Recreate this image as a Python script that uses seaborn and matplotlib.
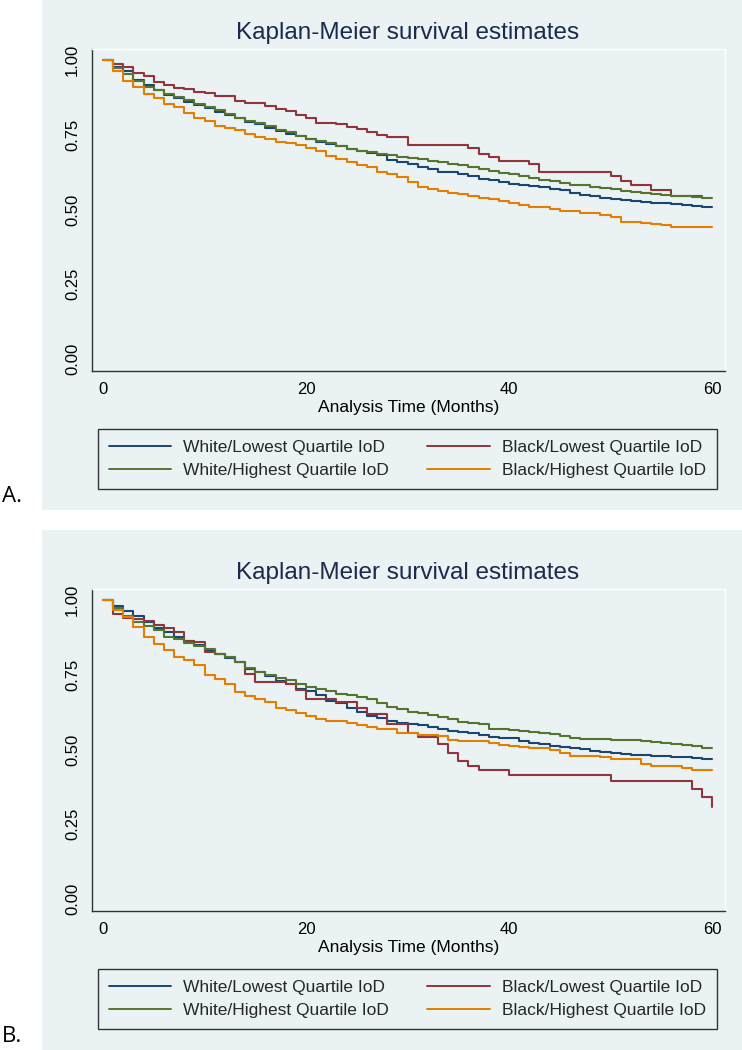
import numpy as np
import pandas as pd
import matplotlib
matplotlib.use("Agg")
import matplotlib.pyplot as plt
from matplotlib.patches import Rectangle
import seaborn as sns

# ---------------- data ----------------
MONTHS = list(range(0, 61))
MONTHS_A_BLACK_LOW = list(range(0, 60))

GROUPS = ["White/Lowest Quartile IoD", "Black/Lowest Quartile IoD",
          "White/Highest Quartile IoD", "Black/Highest Quartile IoD"]

a_white_low = [1.000, 0.978, 0.962, 0.934, 0.915, 0.900, 0.884, 0.873, 0.861, 0.851,
               0.838, 0.827, 0.816, 0.805, 0.794, 0.785, 0.774, 0.764, 0.753, 0.745,
               0.735, 0.727, 0.720, 0.712, 0.702, 0.695, 0.690, 0.681, 0.664, 0.658,
               0.651, 0.643, 0.634, 0.626, 0.624, 0.620, 0.613, 0.603, 0.599, 0.593,
               0.585, 0.582, 0.580, 0.575, 0.570, 0.564, 0.555, 0.548, 0.544, 0.540,
               0.536, 0.533, 0.528, 0.525, 0.522, 0.521, 0.517, 0.514, 0.513, 0.508,
               0.508]
a_white_high = [1.000, 0.974, 0.953, 0.931, 0.911, 0.901, 0.886, 0.876, 0.865, 0.854,
                0.842, 0.832, 0.819, 0.806, 0.797, 0.790, 0.779, 0.766, 0.758, 0.747,
                0.735, 0.729, 0.721, 0.713, 0.703, 0.697, 0.693, 0.686, 0.681, 0.677,
                0.671, 0.668, 0.662, 0.658, 0.652, 0.648, 0.642, 0.634, 0.630, 0.623,
                0.618, 0.611, 0.604, 0.600, 0.595, 0.590, 0.583, 0.581, 0.576, 0.572,
                0.569, 0.563, 0.559, 0.555, 0.551, 0.550, 0.546, 0.544, 0.542, 0.540,
                0.540]
a_black_low = [1.000, 0.988, 0.976, 0.955, 0.946, 0.928, 0.918, 0.907, 0.903, 0.894,
               0.888, 0.878, 0.878, 0.863, 0.857, 0.857, 0.846, 0.836, 0.829, 0.816,
               0.805, 0.790, 0.790, 0.785, 0.777, 0.769, 0.760, 0.748, 0.741, 0.741,
               0.716, 0.716, 0.716, 0.716, 0.716, 0.716, 0.705, 0.686, 0.677, 0.663,
               0.663, 0.663, 0.652, 0.626, 0.626, 0.626, 0.626, 0.626, 0.626, 0.626,
               0.612, 0.596, 0.581, 0.581, 0.565, 0.565, 0.546, 0.546, 0.546, 0.546]
a_black_high = [1.000, 0.963, 0.930, 0.911, 0.887, 0.872, 0.854, 0.842, 0.824, 0.805,
                0.795, 0.780, 0.773, 0.767, 0.754, 0.742, 0.735, 0.727, 0.721, 0.716,
                0.705, 0.695, 0.678, 0.668, 0.659, 0.649, 0.642, 0.626, 0.619, 0.609,
                0.592, 0.576, 0.570, 0.562, 0.556, 0.551, 0.544, 0.540, 0.535, 0.528,
                0.523, 0.516, 0.509, 0.507, 0.503, 0.496, 0.494, 0.488, 0.488, 0.483,
                0.474, 0.458, 0.458, 0.455, 0.453, 0.449, 0.440, 0.440, 0.440, 0.440,
                0.440]

b_white_low = [1.000, 0.980, 0.964, 0.945, 0.928, 0.905, 0.894, 0.876, 0.864, 0.848,
               0.834, 0.820, 0.807, 0.792, 0.769, 0.759, 0.746, 0.729, 0.718, 0.702,
               0.696, 0.682, 0.662, 0.657, 0.640, 0.626, 0.613, 0.604, 0.595, 0.588,
               0.586, 0.582, 0.574, 0.570, 0.563, 0.559, 0.554, 0.547, 0.543, 0.538,
               0.537, 0.527, 0.523, 0.518, 0.512, 0.508, 0.504, 0.501, 0.495, 0.492,
               0.489, 0.486, 0.483, 0.482, 0.479, 0.478, 0.475, 0.475, 0.471, 0.467,
               0.467]
b_white_high = [1.000, 0.972, 0.948, 0.928, 0.914, 0.900, 0.877, 0.870, 0.857, 0.847,
                0.836, 0.820, 0.808, 0.792, 0.774, 0.759, 0.749, 0.740, 0.731, 0.720,
                0.709, 0.703, 0.697, 0.687, 0.681, 0.676, 0.670, 0.656, 0.643, 0.634,
                0.625, 0.622, 0.615, 0.609, 0.601, 0.592, 0.589, 0.584, 0.570, 0.568,
                0.565, 0.562, 0.559, 0.555, 0.552, 0.546, 0.540, 0.536, 0.536, 0.536,
                0.533, 0.533, 0.532, 0.529, 0.525, 0.522, 0.518, 0.516, 0.511, 0.506,
                0.506]
b_black_low = [1.000, 0.952, 0.939, 0.937, 0.930, 0.916, 0.907, 0.892, 0.863, 0.861,
               0.825, 0.818, 0.809, 0.792, 0.752, 0.727, 0.727, 0.727, 0.718, 0.700,
               0.669, 0.669, 0.669, 0.660, 0.658, 0.638, 0.618, 0.618, 0.585, 0.585,
               0.556, 0.543, 0.543, 0.518, 0.489, 0.462, 0.446, 0.431, 0.431, 0.431,
               0.416, 0.416, 0.416, 0.416, 0.416, 0.416, 0.416, 0.416, 0.416, 0.416,
               0.396, 0.396, 0.396, 0.396, 0.396, 0.396, 0.396, 0.396, 0.369, 0.340,
               0.309]
b_black_high = [1.000, 0.967, 0.944, 0.911, 0.876, 0.854, 0.833, 0.809, 0.800, 0.783,
                0.749, 0.735, 0.719, 0.691, 0.679, 0.669, 0.658, 0.640, 0.632, 0.621,
                0.613, 0.601, 0.595, 0.594, 0.589, 0.581, 0.574, 0.568, 0.567, 0.556,
                0.555, 0.550, 0.549, 0.545, 0.532, 0.527, 0.527, 0.527, 0.523, 0.514,
                0.513, 0.508, 0.505, 0.504, 0.499, 0.489, 0.479, 0.478, 0.477, 0.474,
                0.469, 0.469, 0.468, 0.450, 0.444, 0.444, 0.444, 0.437, 0.431, 0.431,
                0.431]

Y_TICKS = [0.0, 0.25, 0.5, 0.75, 1.0]
Y_TICK_LABELS = ["0.00", "0.25", "0.50", "0.75", "1.00"]
X_TICKS = [0, 20, 40, 60]
TITLE = "Kaplan-Meier survival estimates"
XLABEL = "Analysis Time (Months)"
PANEL_LABELS = ["A.", "B."]

COLORS = {"White/Lowest Quartile IoD": "#1A476F",
          "Black/Lowest Quartile IoD": "#90353B",
          "White/Highest Quartile IoD": "#55752F",
          "Black/Highest Quartile IoD": "#E37E00"}


def make_df(series):
    frames = []
    for grp, (t, s) in series.items():
        frames.append(pd.DataFrame({"time": t, "survival": s, "group": grp}))
    return pd.concat(frames, ignore_index=True)


df_a = make_df({GROUPS[0]: (MONTHS, a_white_low),
                GROUPS[1]: (MONTHS_A_BLACK_LOW, a_black_low),
                GROUPS[2]: (MONTHS, a_white_high),
                GROUPS[3]: (MONTHS, a_black_high)})
df_b = make_df({GROUPS[0]: (MONTHS, b_white_low),
                GROUPS[1]: (MONTHS, b_black_low),
                GROUPS[2]: (MONTHS, b_white_high),
                GROUPS[3]: (MONTHS, b_black_high)})

# ---------------- figure ----------------
sns.set_theme(style="white")
plt.rcParams["font.family"] = ["Liberation Sans", "DejaVu Sans"]

W, H = 742, 1050
BG = "#EAF2F3"
fig = plt.figure(figsize=(W / 100, H / 100), dpi=100)
fig.patch.set_facecolor("white")


def fx(px):
    return px / W


def fy(py):
    return 1 - py / H


for (top, bot) in [(0, 510), (530, 1050)]:
    fig.patches.append(Rectangle((fx(42), fy(bot)), fx(742) - fx(42), (bot - top) / H,
                                 transform=fig.transFigure, facecolor=BG,
                                 edgecolor="none", zorder=-5))

X0, X1 = 92, 725
x_px0, x_px60 = 103, 712
ppu = (x_px60 - x_px0) / 60.0
xlim = ((X0 - x_px0) / ppu, 60 + (X1 - x_px60) / ppu)

for i, (df, off) in enumerate([(df_a, 0), (df_b, 540)]):
    top, bot = 49 + off, 371 + off
    y1, y0 = 60 + off, 359 + off
    ppy = (y0 - y1)
    ylim = (-(bot - y0) / ppy, 1 + (y1 - top) / ppy)

    ax = fig.add_axes([fx(X0), fy(bot), fx(X1) - fx(X0), (bot - top) / H])
    ax.set_zorder(2)
    ax.set_facecolor(BG)
    sns.lineplot(data=df, x="time", y="survival", hue="group", hue_order=GROUPS,
                 palette=COLORS, estimator=None, sort=False, drawstyle="steps-post",
                 linewidth=1.5, ax=ax)
    ax.set_xlim(*xlim)
    ax.set_ylim(*ylim)
    ax.set_xticks(X_TICKS)
    ax.set_xticklabels([str(v) for v in X_TICKS])
    ax.set_yticks(Y_TICKS)
    ax.set_yticklabels(Y_TICK_LABELS, rotation=90, va="center")
    ax.tick_params(axis="both", which="both", direction="out", length=5, width=1,
                   color="#333333", labelsize=12, labelcolor="black")
    ax.tick_params(axis="x", pad=3)
    ax.tick_params(axis="y", pad=3.5)
    ax.set_ylabel("")
    ax.set_xlabel(XLABEL, fontsize=12.5, labelpad=2, color="black")
    for side in ["left", "bottom"]:
        ax.spines[side].set_color("#333333")
        ax.spines[side].set_linewidth(1.0)
    for side in ["top", "right"]:
        ax.spines[side].set_color("white")
        ax.spines[side].set_linewidth(1.0)
    ax.grid(False)

    fig.text(fx(408), fy(33 + off), TITLE, ha="center", va="center",
             fontsize=17.5, color="#1C2A4D")

    handles, labels = ax.get_legend_handles_labels()
    hmap = dict(zip(labels, handles))
    order = [GROUPS[0], GROUPS[2], GROUPS[1], GROUPS[3]]
    lg = ax.legend([hmap[k] for k in order], order, ncol=2,
                   loc="upper left", mode="expand",
                   bbox_to_anchor=(fx(98), fy(429 + off), fx(717) - fx(98), 0.0001),
                   bbox_transform=fig.transFigure, fontsize=12.5,
                   frameon=True, fancybox=False, edgecolor="#333333",
                   facecolor=BG, framealpha=1, handlelength=3.6,
                   handletextpad=0.7, labelspacing=0.48, borderpad=0.62,
                   borderaxespad=0, columnspacing=1.5)
    lg.get_frame().set_linewidth(1.0)
    for line in lg.get_lines():
        line.set_linewidth(1.4)

    fig.text(fx(2), fy(497 + off), PANEL_LABELS[i], ha="left", va="center",
             fontsize=16, color="black", family=["Open Sans", "DejaVu Sans"])

fig.savefig("out.png", dpi=100, facecolor="white")
